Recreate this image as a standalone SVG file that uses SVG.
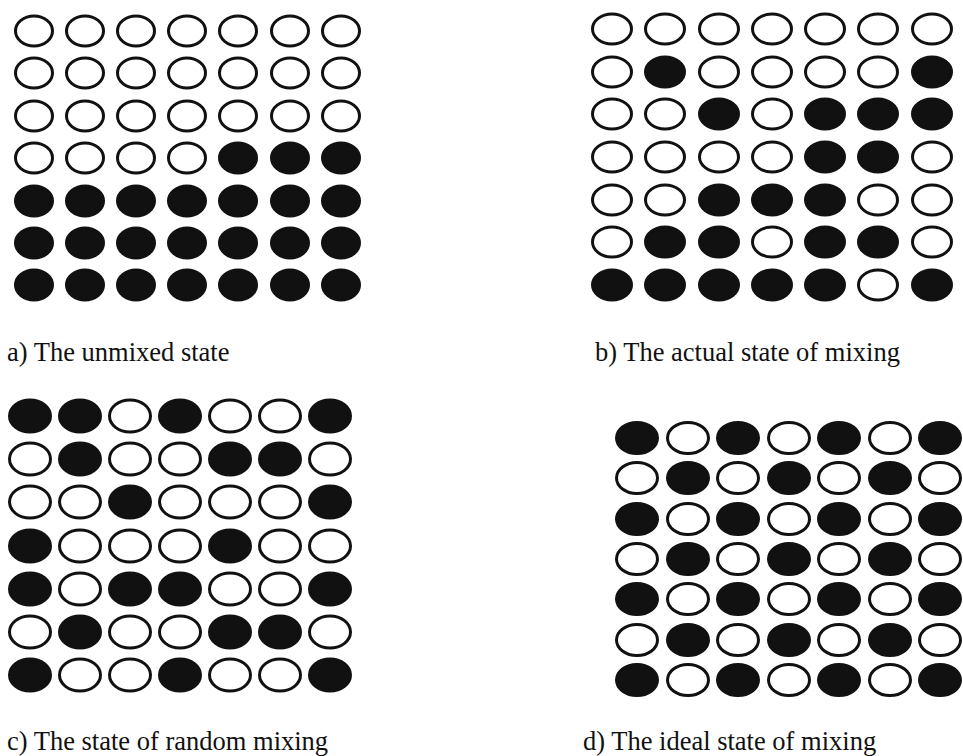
<svg xmlns="http://www.w3.org/2000/svg" width="963" height="756" viewBox="0 0 963 756">
<style>
.w{fill:#fff;stroke:#111;stroke-width:3}
.b{fill:#111;stroke:#111;stroke-width:3}
.lbl{font-family:"Liberation Serif","Times New Roman",serif;font-size:26.5px;fill:#111}
</style>
<defs>
<ellipse id="aw" class="w" rx="18.5" ry="15"/><ellipse id="ab" class="b" rx="18.5" ry="15"/>
<ellipse id="bw" class="w" rx="19.5" ry="15"/><ellipse id="bb" class="b" rx="19.5" ry="15"/>
<ellipse id="cw" class="w" rx="20.5" ry="16"/><ellipse id="cb" class="b" rx="20.5" ry="16"/>
<ellipse id="dw" class="w" rx="20.5" ry="15.5"/><ellipse id="db" class="b" rx="20.5" ry="15.5"/>
</defs>
<rect width="963" height="756" fill="#fff"/>
<g id="grid-a" transform="translate(34,31)">
<use href="#aw" x="0" y="0"/><use href="#aw" x="51" y="0"/><use href="#aw" x="102" y="0"/><use href="#aw" x="153" y="0"/><use href="#aw" x="204" y="0"/><use href="#aw" x="256" y="0"/><use href="#aw" x="307" y="0"/>
<use href="#aw" x="0" y="42"/><use href="#aw" x="51" y="42"/><use href="#aw" x="102" y="42"/><use href="#aw" x="153" y="42"/><use href="#aw" x="204" y="42"/><use href="#aw" x="256" y="42"/><use href="#aw" x="307" y="42"/>
<use href="#aw" x="0" y="85"/><use href="#aw" x="51" y="85"/><use href="#aw" x="102" y="85"/><use href="#aw" x="153" y="85"/><use href="#aw" x="204" y="85"/><use href="#aw" x="256" y="85"/><use href="#aw" x="307" y="85"/>
<use href="#aw" x="0" y="127"/><use href="#aw" x="51" y="127"/><use href="#aw" x="102" y="127"/><use href="#aw" x="153" y="127"/><use href="#ab" x="204" y="127"/><use href="#ab" x="256" y="127"/><use href="#ab" x="307" y="127"/>
<use href="#ab" x="0" y="170"/><use href="#ab" x="51" y="170"/><use href="#ab" x="102" y="170"/><use href="#ab" x="153" y="170"/><use href="#ab" x="204" y="170"/><use href="#ab" x="256" y="170"/><use href="#ab" x="307" y="170"/>
<use href="#ab" x="0" y="212"/><use href="#ab" x="51" y="212"/><use href="#ab" x="102" y="212"/><use href="#ab" x="153" y="212"/><use href="#ab" x="204" y="212"/><use href="#ab" x="256" y="212"/><use href="#ab" x="307" y="212"/>
<use href="#ab" x="0" y="254"/><use href="#ab" x="51" y="254"/><use href="#ab" x="102" y="254"/><use href="#ab" x="153" y="254"/><use href="#ab" x="204" y="254"/><use href="#ab" x="256" y="254"/><use href="#ab" x="307" y="254"/>
</g>
<g id="grid-b" transform="translate(612,29)">
<use href="#bw" x="0" y="0"/><use href="#bw" x="53" y="0"/><use href="#bw" x="107" y="0"/><use href="#bw" x="160" y="0"/><use href="#bw" x="213" y="0"/><use href="#bw" x="266" y="0"/><use href="#bw" x="320" y="0"/>
<use href="#bw" x="0" y="43"/><use href="#bb" x="53" y="43"/><use href="#bw" x="107" y="43"/><use href="#bw" x="160" y="43"/><use href="#bw" x="213" y="43"/><use href="#bw" x="266" y="43"/><use href="#bb" x="320" y="43"/>
<use href="#bw" x="0" y="85"/><use href="#bw" x="53" y="85"/><use href="#bb" x="107" y="85"/><use href="#bw" x="160" y="85"/><use href="#bb" x="213" y="85"/><use href="#bb" x="266" y="85"/><use href="#bb" x="320" y="85"/>
<use href="#bw" x="0" y="128"/><use href="#bw" x="53" y="128"/><use href="#bw" x="107" y="128"/><use href="#bw" x="160" y="128"/><use href="#bb" x="213" y="128"/><use href="#bb" x="266" y="128"/><use href="#bw" x="320" y="128"/>
<use href="#bw" x="0" y="171"/><use href="#bw" x="53" y="171"/><use href="#bb" x="107" y="171"/><use href="#bb" x="160" y="171"/><use href="#bb" x="213" y="171"/><use href="#bw" x="266" y="171"/><use href="#bw" x="320" y="171"/>
<use href="#bw" x="0" y="213"/><use href="#bb" x="53" y="213"/><use href="#bb" x="107" y="213"/><use href="#bw" x="160" y="213"/><use href="#bb" x="213" y="213"/><use href="#bb" x="266" y="213"/><use href="#bw" x="320" y="213"/>
<use href="#bb" x="0" y="256"/><use href="#bb" x="53" y="256"/><use href="#bb" x="107" y="256"/><use href="#bb" x="160" y="256"/><use href="#bb" x="213" y="256"/><use href="#bw" x="266" y="256"/><use href="#bb" x="320" y="256"/>
</g>
<g id="grid-c" transform="translate(30,416)">
<use href="#cb" x="0" y="0"/><use href="#cb" x="50" y="0"/><use href="#cw" x="100" y="0"/><use href="#cb" x="150" y="0"/><use href="#cw" x="200" y="0"/><use href="#cw" x="250" y="0"/><use href="#cb" x="300" y="0"/>
<use href="#cw" x="0" y="43"/><use href="#cb" x="50" y="43"/><use href="#cw" x="100" y="43"/><use href="#cw" x="150" y="43"/><use href="#cb" x="200" y="43"/><use href="#cb" x="250" y="43"/><use href="#cw" x="300" y="43"/>
<use href="#cw" x="0" y="86"/><use href="#cw" x="50" y="86"/><use href="#cb" x="100" y="86"/><use href="#cw" x="150" y="86"/><use href="#cw" x="200" y="86"/><use href="#cw" x="250" y="86"/><use href="#cb" x="300" y="86"/>
<use href="#cb" x="0" y="130"/><use href="#cw" x="50" y="130"/><use href="#cw" x="100" y="130"/><use href="#cw" x="150" y="130"/><use href="#cb" x="200" y="130"/><use href="#cw" x="250" y="130"/><use href="#cw" x="300" y="130"/>
<use href="#cb" x="0" y="173"/><use href="#cw" x="50" y="173"/><use href="#cb" x="100" y="173"/><use href="#cb" x="150" y="173"/><use href="#cw" x="200" y="173"/><use href="#cw" x="250" y="173"/><use href="#cb" x="300" y="173"/>
<use href="#cw" x="0" y="216"/><use href="#cb" x="50" y="216"/><use href="#cw" x="100" y="216"/><use href="#cw" x="150" y="216"/><use href="#cb" x="200" y="216"/><use href="#cb" x="250" y="216"/><use href="#cw" x="300" y="216"/>
<use href="#cb" x="0" y="259"/><use href="#cw" x="50" y="259"/><use href="#cw" x="100" y="259"/><use href="#cb" x="150" y="259"/><use href="#cw" x="200" y="259"/><use href="#cw" x="250" y="259"/><use href="#cb" x="300" y="259"/>
</g>
<g id="grid-d" transform="translate(637,438)">
<use href="#db" x="0" y="0"/><use href="#dw" x="51" y="0"/><use href="#db" x="101" y="0"/><use href="#dw" x="152" y="0"/><use href="#db" x="202" y="0"/><use href="#dw" x="253" y="0"/><use href="#db" x="303" y="0"/>
<use href="#dw" x="0" y="40"/><use href="#db" x="51" y="40"/><use href="#dw" x="101" y="40"/><use href="#db" x="152" y="40"/><use href="#dw" x="202" y="40"/><use href="#db" x="253" y="40"/><use href="#dw" x="303" y="40"/>
<use href="#db" x="0" y="81"/><use href="#dw" x="51" y="81"/><use href="#db" x="101" y="81"/><use href="#dw" x="152" y="81"/><use href="#db" x="202" y="81"/><use href="#dw" x="253" y="81"/><use href="#db" x="303" y="81"/>
<use href="#dw" x="0" y="121"/><use href="#db" x="51" y="121"/><use href="#dw" x="101" y="121"/><use href="#db" x="152" y="121"/><use href="#dw" x="202" y="121"/><use href="#db" x="253" y="121"/><use href="#dw" x="303" y="121"/>
<use href="#db" x="0" y="161"/><use href="#dw" x="51" y="161"/><use href="#db" x="101" y="161"/><use href="#dw" x="152" y="161"/><use href="#db" x="202" y="161"/><use href="#dw" x="253" y="161"/><use href="#db" x="303" y="161"/>
<use href="#dw" x="0" y="202"/><use href="#db" x="51" y="202"/><use href="#dw" x="101" y="202"/><use href="#db" x="152" y="202"/><use href="#dw" x="202" y="202"/><use href="#db" x="253" y="202"/><use href="#dw" x="303" y="202"/>
<use href="#db" x="0" y="242"/><use href="#dw" x="51" y="242"/><use href="#db" x="101" y="242"/><use href="#dw" x="152" y="242"/><use href="#db" x="202" y="242"/><use href="#dw" x="253" y="242"/><use href="#db" x="303" y="242"/>
</g>
<g id="labels">
<text id="label-a" class="lbl" x="7" y="361">a) The unmixed state</text>
<text id="label-b" class="lbl" x="595" y="361">b) The actual state of mixing</text>
<text id="label-c" class="lbl" x="7" y="750">c) The state of random mixing</text>
<text id="label-d" class="lbl" x="583" y="750">d) The ideal state of mixing</text>
</g>
</svg>
